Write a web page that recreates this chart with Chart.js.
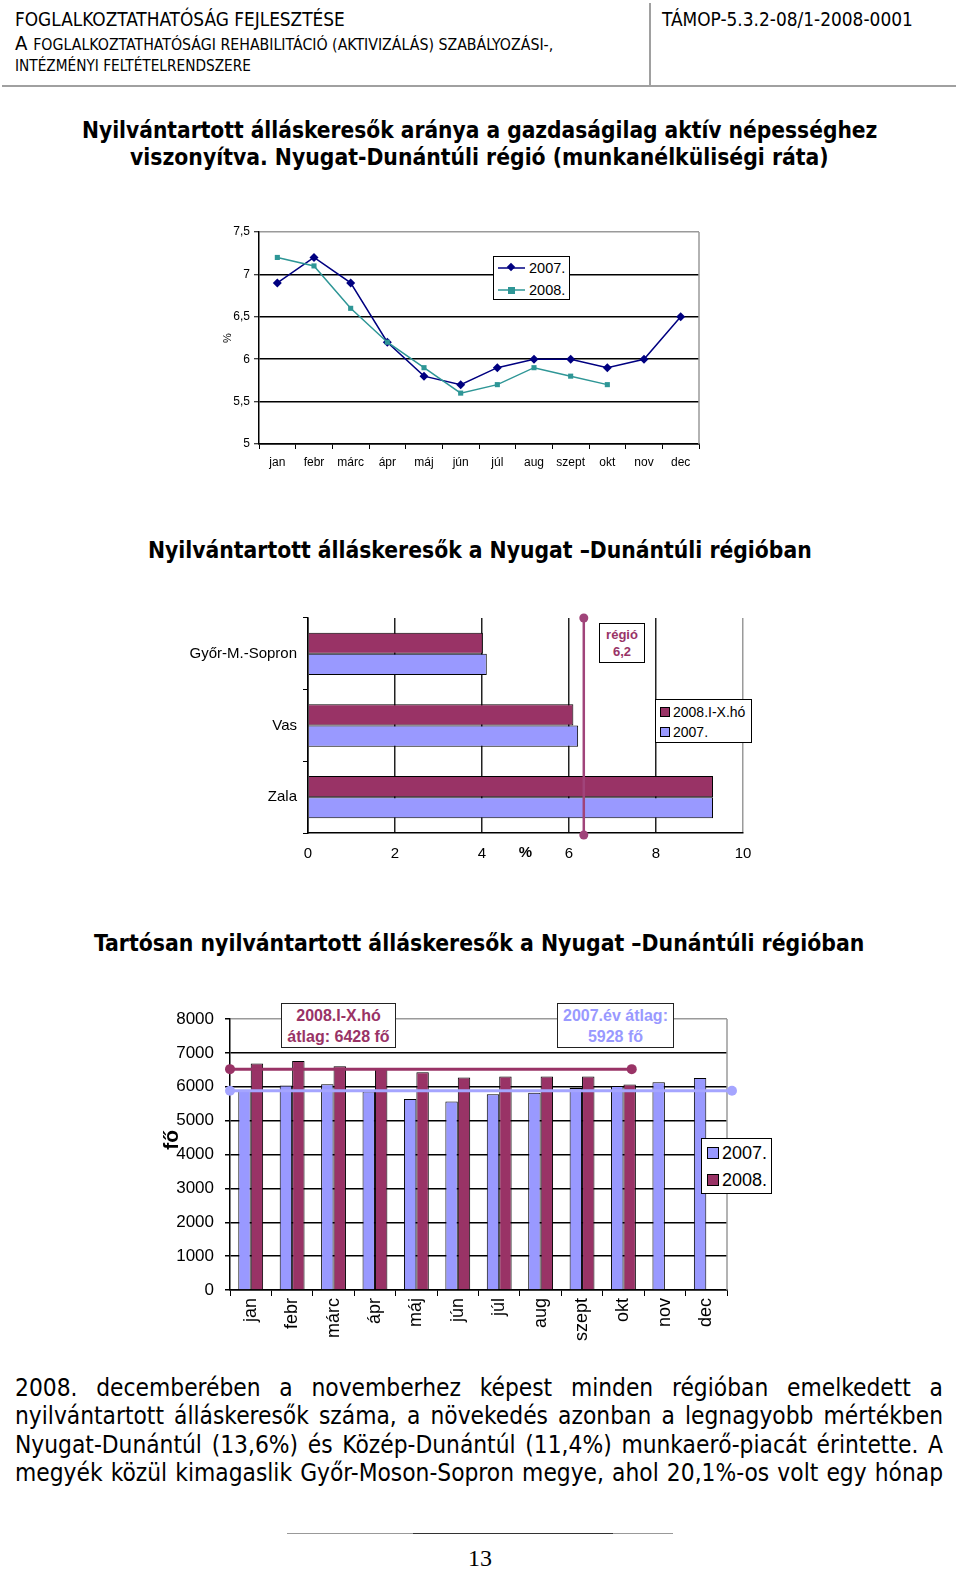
<!DOCTYPE html>
<html><head><meta charset="utf-8">
<script src="https://cdn.jsdelivr.net/npm/chart.js@4.4.1/dist/chart.umd.min.js"></script>
<style>
html,body{margin:0;padding:0;background:#fff;}
#page{position:relative;width:960px;height:1570px;overflow:hidden;background:#fff;font-family:"DejaVu Sans Condensed","DejaVu Sans",sans-serif;color:#000;}
.abs{position:absolute;white-space:nowrap;line-height:1.2;}
.h{font-weight:bold;}
canvas{position:absolute;}
.box{position:absolute;background:#fff;border:1px solid #000;box-sizing:border-box;font-family:"Liberation Sans",Arial,sans-serif;}
.para{position:absolute;left:15px;width:928px;text-align:justify;text-align-last:justify;white-space:nowrap;line-height:1.2;}
.lg{position:absolute;white-space:nowrap;font-family:"Liberation Sans",Arial,sans-serif;line-height:1;}
.sq{position:absolute;border:1px solid #000;box-sizing:border-box;}
</style></head><body><div id="page">

<div class="abs" data-w="330" data-cy="19" style="left:15px;font-size:16px;">FOGLALKOZTATHATÓSÁG FEJLESZTÉSE</div>
<div class="abs" data-w="538" data-cy="43" style="left:15px;font-size:16px;">A <span style="font-size:0.78em">FOGLALKOZTATHATÓSÁGI REHABILITÁCIÓ (AKTIVIZÁLÁS) SZABÁLYOZÁSI-,</span></div>
<div class="abs" data-w="236" data-cy="66" style="left:15px;font-size:12.5px;">INTÉZMÉNYI FELTÉTELRENDSZERE</div>
<div class="abs" data-w="251" data-cy="19" style="left:662px;font-size:16px;">TÁMOP-5.3.2-08/1-2008-0001</div>
<div style="position:absolute;left:649px;top:3px;width:2px;height:83px;background:#a0a0a0;"></div>
<div style="position:absolute;left:2px;top:85px;width:954px;height:2px;background:#a0a0a0;"></div>

<div class="abs h" data-w="796" data-cy="131" style="left:82px;font-size:20px;">Nyilvántartott álláskeresők aránya a gazdaságilag aktív népességhez</div>
<div class="abs h" data-w="699" data-cy="158" style="left:130px;font-size:20px;">viszonyítva. Nyugat-Dunántúli régió (munkanélküliségi ráta)</div>
<div class="abs h" data-w="664" data-cy="551" style="left:148px;font-size:20px;">Nyilvántartott álláskeresők a Nyugat –Dunántúli régióban</div>
<div class="abs h" data-w="771" data-cy="944" style="left:94px;font-size:20px;">Tartósan nyilvántartott álláskeresők a Nyugat –Dunántúli régióban</div>

<canvas id="c1" width="580" height="265" style="left:160px;top:215px;"></canvas>
<div class="box" style="left:493px;top:256px;width:77px;height:44px;">
  <svg width="30" height="40" style="position:absolute;left:4px;top:0;">
    <line x1="0" y1="11" x2="27" y2="11" stroke="#000080" stroke-width="1.5"/>
    <rect x="10" y="7" width="6" height="6" fill="#000080" transform="rotate(45 13 10)"/>
    <line x1="0" y1="33" x2="27" y2="33" stroke="#2E9696" stroke-width="1.5"/>
    <rect x="10" y="30" width="7" height="7" fill="#2E9696"/>
  </svg>
  <div class="lg" style="left:35px;top:4px;font-size:14.5px;">2007.</div>
  <div class="lg" style="left:35px;top:26px;font-size:14.5px;">2008.</div>
</div>

<canvas id="c2" width="600" height="267" style="left:170px;top:603px;"></canvas>
<div class="box" style="left:599px;top:623px;width:46px;height:40px;color:#993366;font-weight:bold;font-size:13px;text-align:center;line-height:17px;padding-top:2px;">régió<br>6,2</div>
<div class="box" style="left:655px;top:699px;width:97px;height:44px;">
  <div class="sq" style="left:4px;top:7px;width:10px;height:10px;background:#993366;"></div>
  <div class="lg" style="left:17px;top:5px;font-size:14px;">2008.I-X.hó</div>
  <div class="sq" style="left:4px;top:27px;width:10px;height:10px;background:#9999FF;"></div>
  <div class="lg" style="left:17px;top:25px;font-size:14px;">2007.</div>
</div>

<canvas id="c3" width="640" height="360" style="left:150px;top:995px;"></canvas>
<div class="box" style="left:281px;top:1003px;width:115px;height:45px;border:1.5px solid #222;color:#993366;font-weight:bold;font-size:16px;text-align:center;line-height:21px;padding-top:1px;">2008.I-X.hó<br>átlag: 6428 fő</div>
<div class="box" style="left:557px;top:1003px;width:117px;height:45px;border:1.5px solid #222;color:#9999FF;font-weight:bold;font-size:16px;text-align:center;line-height:21px;padding-top:1px;">2007.év átlag:<br>5928 fő</div>
<div class="box" style="left:701px;top:1138px;width:71px;height:56px;">
  <div class="sq" style="left:5px;top:8px;width:12px;height:12px;background:#9999FF;"></div>
  <div class="lg" style="left:20px;top:5px;font-size:18px;">2007.</div>
  <div class="sq" style="left:5px;top:35px;width:12px;height:12px;background:#993366;"></div>
  <div class="lg" style="left:20px;top:32px;font-size:18px;">2008.</div>
</div>

<div class="para" data-cy="1388">2008. decemberében a novemberhez képest minden régióban emelkedett a</div>
<div class="para" data-cy="1416">nyilvántartott álláskeresők száma, a növekedés azonban a legnagyobb mértékben</div>
<div class="para" data-cy="1445">Nyugat-Dunántúl (13,6%) és Közép-Dunántúl (11,4%) munkaerő-piacát érintette. A</div>
<div class="para" data-cy="1473" id="p4">megyék közül kimagaslik Győr-Moson-Sopron megye, ahol 20,1%-os volt egy hónap</div>

<div style="position:absolute;left:287px;top:1533px;width:386px;height:1px;background:#999;"></div>
<div style="position:absolute;left:413px;top:1533px;width:200px;height:1px;background:#333;"></div>
<div class="abs" style="left:0;width:960px;text-align:center;top:1544px;font-family:'Liberation Serif',serif;font-size:24px;">13</div>
</div>
<script>
// ---------- data ----------
const months = ['jan','febr','márc','ápr','máj','jún','júl','aug','szept','okt','nov','dec'];
const rate2007 = [6.9, 7.2, 6.9, 6.2, 5.8, 5.7, 5.9, 6.0, 6.0, 5.9, 6.0, 6.5];
const rate2008 = [7.2, 7.1, 6.6, 6.2, 5.9, 5.6, 5.7, 5.9, 5.8, 5.7, null, null];
const rateTicks = [5, 5.5, 6, 6.5, 7, 7.5];

const counties = ['Győr-M.-Sopron', 'Vas', 'Zala'];
const county2008 = [4.02, 6.10, 9.31];
const county2007 = [4.11, 6.21, 9.31];
const regionLinePos = 6.34;          // where the "régió 6,2" line is drawn
const pctTicks = [0, 2, 4, 6, 8, 10];

const long2007 = [5900, 6035, 6075, 5860, 5640, 5565, 5780, 5820, 5960, 6025, 6135, 6260];
const long2008 = [6683, 6760, 6605, 6545, 6428, 6270, 6300, 6300, 6300, 6065, null, null];
const countTicks = [0, 1000, 2000, 3000, 4000, 5000, 6000, 7000, 8000];
const avg2008Level = 6520, avg2008From = -0.5, avg2008To = 9.2;    // x in category-index units
const avg2007Level = 5880, avg2007From = -0.5, avg2007To = 11.62;

function fitText(){
  document.querySelectorAll('.abs[data-w]').forEach(el=>{
    const w=+el.dataset.w, fs=parseFloat(getComputedStyle(el).fontSize);
    const cur=el.getBoundingClientRect().width;
    if(cur>0) el.style.fontSize=(fs*w/cur)+'px';
  });
  const p4=document.getElementById('p4');
  const probe=document.createElement('span');
  probe.style.cssText='position:absolute;white-space:nowrap;visibility:hidden;font-size:20px;';
  probe.textContent=p4.textContent; document.getElementById('page').appendChild(probe);
  const pfs=20*918/probe.getBoundingClientRect().width; probe.remove();
  document.querySelectorAll('.para').forEach(el=>el.style.fontSize=pfs+'px');
  document.querySelectorAll('[data-cy]').forEach(el=>{
    el.style.top=(+el.dataset.cy - el.getBoundingClientRect().height/2)+'px';
  });
}
fitText();

Chart.defaults.font.family = '"Liberation Sans", Arial, sans-serif';
Chart.defaults.color = '#000';
const frame = {id:'frame', beforeDatasetsDraw(chart){
  const {ctx, chartArea:a} = chart; ctx.save(); ctx.strokeStyle='#9a9a9a'; ctx.lineWidth=1.5;
  ctx.beginPath(); ctx.moveTo(a.right, a.top); ctx.lineTo(a.right, a.bottom); ctx.stroke(); ctx.restore();
}};
// reference lines (averages / regional value) drawn through the chart's own scales
const refLines = {id:'refLines', afterDatasetsDraw(chart, args, opts){
  const {ctx, chartArea:a} = chart;
  (opts.lines||[]).forEach(l=>{
    let x1,x2,y1,y2;
    if (l.vertical) {
      x1 = x2 = chart.scales[l.valueScale].getPixelForValue(l.value);
      y1 = a.top; y2 = a.bottom + 2;
    } else {
      y1 = y2 = chart.scales[l.valueScale].getPixelForValue(l.value);
      x1 = chart.scales[l.posScale].getPixelForValue(l.from);
      x2 = chart.scales[l.posScale].getPixelForValue(l.to);
    }
    ctx.save();
    ctx.strokeStyle = l.color; ctx.fillStyle = l.color; ctx.lineWidth = l.width;
    ctx.beginPath(); ctx.moveTo(x1,y1); ctx.lineTo(x2,y2); ctx.stroke();
    [[x1,y1],[x2,y2]].forEach(([px,py])=>{ ctx.beginPath(); ctx.arc(px,py,l.radius,0,Math.PI*2); ctx.fill(); });
    ctx.restore();
  });
}};
const comma = v => String(v).replace('.', ',');

new Chart(document.getElementById('c1'), {
  type:'line',
  data:{labels:months, datasets:[
    {label:'2007.', data:rate2007, borderColor:'#000080', backgroundColor:'#000080', borderWidth:1.5,
     pointStyle:'rectRot', pointRadius:4.5, pointBorderWidth:0, pointBackgroundColor:'#000080', order:1},
    {label:'2008.', data:rate2008, borderColor:'#2E9696', backgroundColor:'#2E9696', borderWidth:1.5,
     pointStyle:'rect', pointRadius:3.6, pointBorderWidth:0, pointBackgroundColor:'#2E9696', order:0}
  ]},
  plugins:[frame],
  options:{responsive:false, animation:false, events:[],
    layout:{padding:{top:17, right:41, left:0, bottom:0}},
    plugins:{legend:{display:false}, tooltip:{enabled:false}},
    scales:{
      x:{offset:true, grid:{offset:true, drawOnChartArea:false, drawTicks:true, tickLength:5, color:'#000'},
         border:{color:'#000', width:1.5}, ticks:{font:{size:12}, padding:6, maxRotation:0, autoSkip:false},
         afterFit:s=>{s.height=36;}},
      y:{min:5, max:7.5, afterBuildTicks:s=>{s.ticks=rateTicks.map(v=>({value:v}));},
         grid:{color:c=>(c.tick && c.tick.value===7.5)?'#9a9a9a':'#000', lineWidth:1.5, tickLength:5, tickColor:'#000', tickWidth:1},
         border:{color:'#000', width:1.5},
         ticks:{font:{size:12}, padding:4, callback:v=>comma(v)},
         title:{display:true, text:'%', font:{size:11}, padding:{top:61, bottom:0}},
         afterFit:s=>{s.width=99;}}
    }}
});

new Chart(document.getElementById('c2'), {
  type:'bar',
  data:{labels:counties, datasets:[
    {label:'2008.I-X.hó', data:county2008, backgroundColor:'#993366', borderColor:'#000', borderWidth:1,
     categoryPercentage:0.59, barPercentage:1},
    {label:'2007.', data:county2007, backgroundColor:'#9999FF', borderColor:'#000', borderWidth:1,
     categoryPercentage:0.59, barPercentage:1}
  ]},
  plugins:[refLines],
  options:{indexAxis:'y', responsive:false, animation:false, events:[],
    layout:{padding:{top:13, right:27, left:0, bottom:0}},
    plugins:{legend:{display:false}, tooltip:{enabled:false},
      refLines:{lines:[{vertical:true, valueScale:'x', value:regionLinePos, color:'#A0447A', width:2.5, radius:4.5}]}},
    scales:{
      x:{type:'linear', min:0, max:10, afterBuildTicks:s=>{s.ticks=pctTicks.map(v=>({value:v}));},
         grid:{color:c=>(c.tick && c.tick.value===10)?'#9a9a9a':'#222', lineWidth:1.5, drawTicks:false},
         border:{color:'#000', width:1.5}, ticks:{font:{size:15}, padding:12},
         title:{display:true, text:'%', font:{size:15, weight:'bold'}, padding:{top:0, bottom:8}},
         afterFit:s=>{s.height=37;}},
      y:{type:'category', grid:{offset:true, drawOnChartArea:false, drawTicks:true, tickLength:5, color:'#000'},
         border:{color:'#000', width:1.5}, ticks:{font:{size:15}, padding:6},
         afterFit:s=>{s.width=138;}}
    }}
});

new Chart(document.getElementById('c3'), {
  type:'bar',
  data:{labels:months, datasets:[
    {label:'2007.', data:long2007, backgroundColor:'#9999FF', borderColor:'#000', borderWidth:1,
     categoryPercentage:0.6, barPercentage:1},
    {label:'2008.', data:long2008, backgroundColor:'#993366', borderColor:'#000', borderWidth:1,
     categoryPercentage:0.6, barPercentage:1}
  ]},
  plugins:[frame, refLines],
  options:{responsive:false, animation:false, events:[],
    layout:{padding:{top:24, right:63, left:0, bottom:0}},
    plugins:{legend:{display:false}, tooltip:{enabled:false},
      refLines:{lines:[
        {valueScale:'y', posScale:'x', value:avg2008Level, from:avg2008From, to:avg2008To, color:'#993366', width:3, radius:5},
        {valueScale:'y', posScale:'x', value:avg2007Level, from:avg2007From, to:avg2007To, color:'#A5A5FF', width:3, radius:5}
      ]}},
    scales:{
      x:{type:'category', offset:true, grid:{offset:true, drawOnChartArea:false, drawTicks:true, tickLength:6, color:'#000'},
         border:{color:'#000', width:1.5}, ticks:{font:{size:18}, minRotation:90, maxRotation:90, padding:2, autoSkip:false},
         afterFit:s=>{s.height=65;}},
      y:{min:0, max:8000, afterBuildTicks:s=>{s.ticks=countTicks.map(v=>({value:v}));},
         grid:{color:c=>(c.tick && c.tick.value===8000)?'#9a9a9a':'#000', lineWidth:1.5, tickLength:5, tickColor:'#000'},
         border:{color:'#000', width:1.5}, ticks:{font:{size:17}, padding:11, callback:v=>String(v)},
         title:{display:true, text:'     fő', font:{size:21, weight:'bold'}, padding:{top:10, bottom:0}},
         afterFit:s=>{s.width=80;}}
    }}
});
</script>
</body></html>
